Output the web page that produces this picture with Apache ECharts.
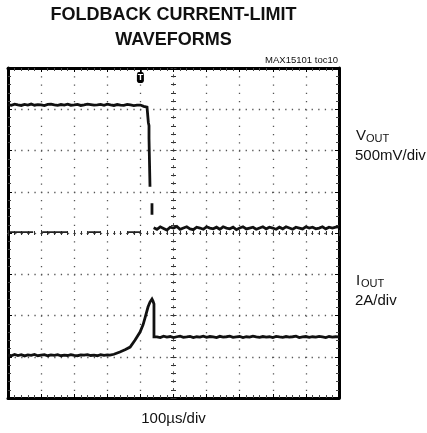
<!DOCTYPE html>
<html><head><meta charset="utf-8">
<script src="https://cdn.jsdelivr.net/npm/echarts@6/dist/echarts.min.js"></script>
<style>html,body{margin:0;padding:0;background:#fff}#c{width:427px;height:433px}</style>
</head><body><div id="c"></div>
<script>
// ---- time base (µs), 100 µs/div, trigger at 0 ----
const timeMin = -400, timeMax = 600, timeDiv = 100;
const sampleStep = 10;

// ---- VOUT (V), 500 mV/div, 0 V at screen centre ----
const voutMin = -2, voutMax = 2, voutDiv = 0.5;
const voutHighStart = -400;
const voutHigh = [
  1.555,1.548,1.562,1.552,1.546,1.558,1.551,1.563,1.549,1.556,
  1.553,1.545,1.559,1.562,1.552,1.548,1.557,1.551,1.561,1.549,
  1.553,1.558,1.546,1.552,1.562,1.557,1.549,1.553,1.558,1.548,
  1.561,1.552,1.546,1.557,1.551,1.548,1.558,1.552,1.545,1.549,
  1.551,1.535,1.525
];
const voutEdgeTime  = [23, 24, 26, 26, 29, 31, 35, 35, 38];
const voutEdgeValue = [1.52, 1.34, 1.30, 1.15, 0.56, null, 0.36, 0.22, null];
const voutLowStart = 40;
const voutLow = [
  0.065,0.045,0.075,0.055,0.035,0.07,0.06,0.08,0.045,0.06,
  0.075,0.05,0.04,0.07,0.06,0.045,0.075,0.06,0.05,0.07,
  0.045,0.075,0.06,0.05,0.07,0.04,0.06,0.075,0.05,0.06,
  0.07,0.045,0.06,0.075,0.05,0.07,0.06,0.045,0.07,0.05,
  0.075,0.06,0.045,0.07,0.06,0.05,0.075,0.06,0.07,0.05,
  0.06,0.075,0.05,0.07,0.06,0.07,0.075
];
// ground-reference dashes on the left half of the centre line
const refSegStart = [-394, -297, -158, -40];
const refSegEnd   = [-324, -219, -122, 0];
const refLevel = 0.01;

// ---- IOUT (A), 2 A/div, 0 A at bottom ----
const ioutMin = 0, ioutMax = 16, ioutDiv = 2;
const ioutBaseStart = -400;
const ioutBase = [
  2.08,2.05,2.11,2.06,2.10,2.04,2.09,2.07,2.11,2.05,
  2.08,2.10,2.05,2.09,2.07,2.10,2.05,2.08,2.06,2.10,
  2.07,2.05,2.09,2.08,2.10,2.06,2.08,2.05,2.10,2.07,2.09
];
const ioutRiseTime  = [-92, -80, -62, -45, -31, -16, -1, 8, 14, 23, 29, 35, 38, 41, 41];
const ioutRiseValue = [2.08,2.12,2.23,2.35,2.47,2.81,3.2,3.55,3.88,4.41,4.65,4.8,4.7,4.56,2.96];
const ioutFoldStart = 50;
const ioutFold = [
  2.96,2.93,3.00,2.95,2.98,2.93,2.97,3.00,2.94,2.96,
  2.99,2.93,2.97,2.95,3.00,2.94,2.98,2.96,2.93,2.99,
  2.95,2.97,3.00,2.94,2.96,2.98,2.93,2.97,2.95,3.00,
  2.96,2.94,2.98,2.95,2.97,2.93,2.99,2.96,2.94,2.98,
  2.95,2.97,3.00,2.93,2.96,2.98,2.94,2.97,2.95,2.99,
  2.96,2.93,2.98,2.95,2.97,2.96
];

// trigger marker
const triggerTime = 0, triggerLevel = 1.885;

// ---- build data ----
function sampled(start, vals){ return vals.map((v,i)=>[start + i*sampleStep, v]); }
function paired(ts, vs){ return ts.map((t,i)=>[t, vs[i]]); }
const voutData = sampled(voutHighStart, voutHigh)
  .concat(paired(voutEdgeTime, voutEdgeValue))
  .concat(sampled(voutLowStart, voutLow));
const ioutData = sampled(ioutBaseStart, ioutBase)
  .concat(paired(ioutRiseTime, ioutRiseValue))
  .concat(sampled(ioutFoldStart, ioutFold));
const refData = [];
refSegStart.forEach((s,i)=>{ refData.push([s, refLevel],[refSegEnd[i], refLevel],[refSegEnd[i], null]); });

const FONT = "'Liberation Sans', Arial, Helvetica, sans-serif";
const frameLine = {onZero:false, lineStyle:{color:'#000', width:3}};
const frameTick = {inside:true, length:4, lineStyle:{color:'#000', width:1}};
const frameMinor = {show:true, splitNumber:5, length:3, lineStyle:{color:'#444', width:1}};
const off = {show:false};

const chart = echarts.init(document.getElementById('c'), null, {renderer:'canvas'});
chart.setOption({
  animation:false,
  backgroundColor:'#fff',
  grid:{left:8, right:88, top:68, bottom:35, containLabel:false},
  xAxis:[
    {type:'value', min:timeMin, max:timeMax, interval:timeDiv, position:'bottom',
     axisLine:frameLine, axisTick:frameTick, minorTick:frameMinor, axisLabel:off,
     splitLine:{show:true, lineStyle:{color:'#555', width:1.3, type:[1.3, 6.95]}}},
    {type:'value', min:timeMin, max:timeMax, interval:timeDiv, position:'top',
     axisLine:frameLine, axisTick:frameTick, minorTick:frameMinor, axisLabel:off, splitLine:off},
    {type:'value', min:-5, max:5, show:false, splitLine:off},
    {type:'value', min:timeMin, max:timeMax, interval:timeDiv, position:'bottom',
     axisLine:{onZero:true, onZeroAxisIndex:0, lineStyle:{color:'#555', width:1, type:[1.3,5.3]}},
     axisTick:{inside:true, length:3, lineStyle:{color:'#333'}},
     minorTick:{show:true, splitNumber:5, length:2, lineStyle:{color:'#333'}}, axisLabel:off, splitLine:off},
    {type:'value', min:timeMin, max:timeMax, interval:timeDiv, position:'bottom',
     axisLine:{onZero:true, onZeroAxisIndex:0, lineStyle:{color:'#555', width:1, type:[1.3,5.3]}},
     axisTick:{inside:false, length:3, lineStyle:{color:'#333'}},
     minorTick:{show:true, splitNumber:5, length:2, lineStyle:{color:'#333'}}, axisLabel:off, splitLine:off}
  ],
  yAxis:[
    {type:'value', min:voutMin, max:voutMax, interval:voutDiv, position:'left',
     axisLine:frameLine, axisTick:frameTick, minorTick:frameMinor, axisLabel:off,
     splitLine:{show:true, lineStyle:{color:'#555', width:1.3, type:[1.3, 5.3]}}},
    {type:'value', min:ioutMin, max:ioutMax, interval:ioutDiv, position:'right',
     axisLine:frameLine, axisTick:frameTick, minorTick:frameMinor, axisLabel:off, splitLine:off},
    {type:'value', min:voutMin, max:voutMax, interval:voutDiv, position:'left',
     axisLine:{onZero:true, onZeroAxisIndex:2, lineStyle:{color:'#555', width:1, type:[1.3,6.95]}},
     axisTick:{inside:true, length:3, lineStyle:{color:'#333'}},
     minorTick:{show:true, splitNumber:5, length:2.5, lineStyle:{color:'#333'}}, axisLabel:off, splitLine:off},
    {type:'value', min:voutMin, max:voutMax, interval:voutDiv, position:'left',
     axisLine:{onZero:true, onZeroAxisIndex:2, lineStyle:{color:'#555', width:1, type:[1.3,6.95]}},
     axisTick:{inside:false, length:3, lineStyle:{color:'#333'}},
     minorTick:{show:true, splitNumber:5, length:2.5, lineStyle:{color:'#333'}}, axisLabel:off, splitLine:off}
  ],
  series:[
    {name:'VOUT ref', type:'line', xAxisIndex:0, yAxisIndex:0, data:refData, symbol:'none',
     connectNulls:false, lineStyle:{color:'#222', width:1.8}, silent:true},
    {name:'VOUT', type:'line', xAxisIndex:0, yAxisIndex:0, data:voutData, symbol:'none',
     connectNulls:false, lineStyle:{color:'#111', width:2.8, join:'miter'}, silent:true,
     markPoint:{symbol:'roundRect', symbolSize:[7,11], silent:true,
       itemStyle:{color:'#000'},
       label:{show:true, formatter:'T', color:'#fff', fontSize:9, fontWeight:'bold', fontFamily:FONT, position:'inside'},
       data:[{coord:[triggerTime, triggerLevel]}]},
     markLine:{symbol:'none', silent:true, label:{show:false}, lineStyle:{color:'#000', width:1.5, type:'solid'},
       data:[[{coord:[triggerTime, triggerLevel]},{coord:[triggerTime, voutMax]}]]}},
    {name:'IOUT', type:'line', xAxisIndex:0, yAxisIndex:1, data:ioutData, symbol:'none',
     connectNulls:false, lineStyle:{color:'#111', width:2.8, join:'miter'}, silent:true}
  ],
  graphic:[
    {type:'text', x:173.5, y:15, style:{text:'FOLDBACK CURRENT-LIMIT', font:'bold 18px '+FONT, fill:'#111', align:'center', verticalAlign:'middle', textAlign:'center', textVerticalAlign:'middle'}},
    {type:'text', x:173.5, y:40, style:{text:'WAVEFORMS', font:'bold 18px '+FONT, fill:'#111', align:'center', verticalAlign:'middle', textAlign:'center', textVerticalAlign:'middle'}},
    {type:'text', x:338, y:60, style:{text:'MAX15101 toc10', font:'9.5px '+FONT, fill:'#111', align:'right', verticalAlign:'middle', textAlign:'right', textVerticalAlign:'middle'}},
    {type:'text', x:356, y:136, style:{text:'V', font:'15px '+FONT, fill:'#111', align:'left', verticalAlign:'middle', textAlign:'left', textVerticalAlign:'middle'}},
    {type:'text', x:366, y:138.5, style:{text:'OUT', font:'11px '+FONT, fill:'#111', align:'left', verticalAlign:'middle', textAlign:'left', textVerticalAlign:'middle'}},
    {type:'text', x:355, y:156, style:{text:'500mV/div', font:'15px '+FONT, fill:'#111', align:'left', verticalAlign:'middle', textAlign:'left', textVerticalAlign:'middle'}},
    {type:'text', x:356, y:281, style:{text:'I', font:'15px '+FONT, fill:'#111', align:'left', verticalAlign:'middle', textAlign:'left', textVerticalAlign:'middle'}},
    {type:'text', x:361, y:283.5, style:{text:'OUT', font:'11px '+FONT, fill:'#111', align:'left', verticalAlign:'middle', textAlign:'left', textVerticalAlign:'middle'}},
    {type:'text', x:355, y:301, style:{text:'2A/div', font:'15px '+FONT, fill:'#111', align:'left', verticalAlign:'middle', textAlign:'left', textVerticalAlign:'middle'}},
    {type:'text', x:173.5, y:419, style:{text:'100µs/div', font:'15px '+FONT, fill:'#111', align:'center', verticalAlign:'middle', textAlign:'center', textVerticalAlign:'middle'}}
  ]
});
</script>
</body></html>
